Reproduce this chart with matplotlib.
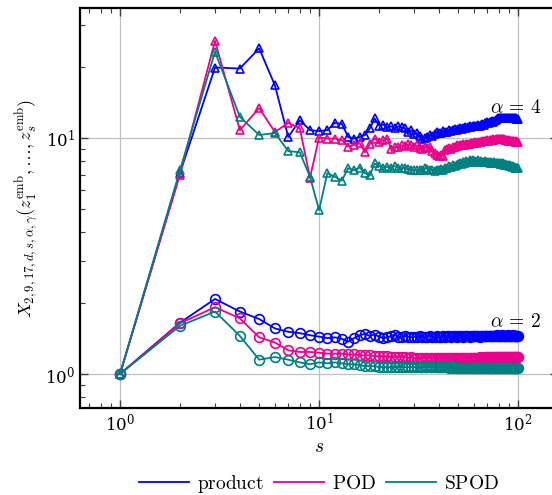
import numpy as np
import matplotlib
matplotlib.use("Agg")
import matplotlib.pyplot as plt
from matplotlib.ticker import LogLocator, NullFormatter

plt.rcParams['mathtext.fontset'] = 'cm'
plt.rcParams['font.family'] = 'serif'
plt.rcParams['font.serif'] = ['DejaVu Serif']

s = np.arange(1, 101)

# alpha = 4
product_a4 = [
    1.0, 7.1, 19.9, 19.7, 24.0, 16.7, 10.1, 11.9, 10.8, 10.7,
    10.8, 11.6, 11.5, 10.1, 9.95, 10.1, 10.3, 11.0, 12.1, 11.3,
    11.4, 11.1, 11.2, 11.0, 11.2, 11.1, 11.0, 10.6, 10.8, 10.4,
    10.5, 10.2, 9.95, 10.0, 10.1, 10.3, 10.2, 10.4, 10.6, 10.5,
    10.5, 10.7, 10.6, 10.6, 10.8, 10.7, 10.8, 10.9, 10.8, 10.9,
    11.0, 10.9, 11.0, 11.1, 11.0, 11.1, 11.2, 11.1, 11.2, 11.3,
    11.2, 11.3, 11.4, 11.3, 11.4, 11.5, 11.4, 11.6, 11.6, 11.7,
    11.6, 11.7, 11.7, 11.8, 11.7, 11.8, 11.9, 12.0, 12.1, 12.1,
    12.2, 12.1, 12.1, 12.2, 12.1, 12.2, 12.1, 12.2, 12.1, 12.1,
    12.2, 12.1, 12.1, 12.2, 12.1, 12.1, 12.0, 12.1, 12.0, 12.0]
pod_a4 = [
    1.0, 7.0, 25.8, 10.8, 13.4, 10.6, 11.6, 11.0, 6.8, 10.05,
    9.95, 9.95, 9.8, 9.2, 9.35, 9.5, 8.7, 9.45, 9.95, 9.65,
    9.8, 9.95, 9.0, 9.15, 9.2, 9.3, 9.25, 9.4, 9.3, 9.2,
    9.3, 9.1, 9.0, 9.2, 9.1, 9.2, 8.8, 8.6, 8.5, 8.4,
    8.5, 8.4, 8.9, 9.0, 9.1, 9.0, 9.15, 9.2, 9.3, 9.25,
    9.3, 9.35, 9.4, 9.3, 9.4, 9.45, 9.45, 9.5, 9.5, 9.55,
    9.6, 9.55, 9.6, 9.65, 9.6, 9.7, 9.7, 9.75, 9.7, 9.8,
    9.75, 9.8, 9.85, 9.8, 9.9, 9.85, 9.9, 9.95, 9.9, 9.95,
    9.9, 9.95, 9.9, 9.95, 9.9, 9.85, 9.8, 9.8, 9.75, 9.8,
    9.75, 9.7, 9.75, 9.7, 9.7, 9.65, 9.7, 9.65, 9.6, 9.6]
spod_a4 = [
    1.0, 7.3, 23.2, 12.3, 10.3, 10.5, 8.8, 8.7, 6.85, 4.95,
    7.1, 6.85, 6.6, 7.45, 7.3, 7.5, 7.1, 6.95, 7.8, 7.6,
    7.5, 7.55, 7.5, 7.6, 7.5, 7.45, 7.5, 7.4, 7.35, 7.3,
    7.3, 7.35, 7.3, 7.45, 7.4, 7.35, 7.3, 7.25, 7.3, 7.35,
    7.4, 7.35, 7.5, 7.45, 7.6, 7.55, 7.7, 7.6, 7.7, 7.75,
    7.8, 7.75, 7.9, 7.85, 8.0, 7.9, 8.1, 8.0, 8.05, 7.95,
    8.0, 7.95, 8.05, 7.9, 8.0, 7.95, 7.9, 8.0, 7.95, 7.9,
    7.95, 7.85, 7.9, 7.85, 7.8, 7.9, 7.85, 7.8, 7.85, 7.8,
    7.75, 7.8, 7.75, 7.8, 7.7, 7.75, 7.7, 7.65, 7.7, 7.6,
    7.65, 7.6, 7.55, 7.6, 7.55, 7.5, 7.5, 7.45, 7.5, 7.45]

# alpha = 2
product_a2 = [
    1.0, 1.65, 2.08, 1.84, 1.71, 1.56, 1.51, 1.49, 1.46, 1.44,
    1.42, 1.43, 1.41, 1.37, 1.42, 1.46, 1.48, 1.45, 1.47, 1.44,
    1.42, 1.43, 1.45, 1.47, 1.44, 1.43, 1.45, 1.44, 1.43, 1.44,
    1.44, 1.45, 1.44, 1.43, 1.44, 1.45, 1.44, 1.44, 1.45, 1.44,
    1.44, 1.45, 1.44, 1.45, 1.45, 1.44, 1.45, 1.45, 1.44, 1.45,
    1.45, 1.45, 1.44, 1.45, 1.45, 1.45, 1.44, 1.45, 1.45, 1.45,
    1.45, 1.45, 1.45, 1.44, 1.45, 1.45, 1.45, 1.45, 1.45, 1.45,
    1.45, 1.45, 1.45, 1.45, 1.45, 1.45, 1.45, 1.46, 1.45, 1.45,
    1.45, 1.45, 1.46, 1.45, 1.45, 1.45, 1.45, 1.45, 1.46, 1.45,
    1.45, 1.45, 1.45, 1.46, 1.45, 1.45, 1.45, 1.45, 1.45, 1.45]
pod_a2 = [
    1.0, 1.64, 1.92, 1.72, 1.43, 1.36, 1.26, 1.24, 1.24, 1.23,
    1.22, 1.22, 1.22, 1.21, 1.21, 1.20, 1.20, 1.20, 1.19, 1.19,
    1.19, 1.19, 1.18, 1.18, 1.18, 1.18, 1.18, 1.17, 1.18, 1.17,
    1.17, 1.17, 1.17, 1.17, 1.17, 1.17, 1.17, 1.17, 1.17, 1.17,
    1.17, 1.17, 1.17, 1.17, 1.17, 1.17, 1.17, 1.17, 1.17, 1.17,
    1.17, 1.17, 1.17, 1.17, 1.17, 1.17, 1.17, 1.17, 1.17, 1.17,
    1.17, 1.17, 1.17, 1.18, 1.17, 1.17, 1.18, 1.17, 1.18, 1.18,
    1.18, 1.18, 1.17, 1.18, 1.18, 1.18, 1.18, 1.18, 1.18, 1.18,
    1.18, 1.18, 1.18, 1.18, 1.18, 1.18, 1.18, 1.18, 1.18, 1.18,
    1.18, 1.18, 1.18, 1.18, 1.18, 1.18, 1.18, 1.18, 1.18, 1.18]
spod_a2 = [
    1.0, 1.60, 1.84, 1.45, 1.15, 1.18, 1.15, 1.12, 1.10, 1.12,
    1.11, 1.12, 1.11, 1.10, 1.10, 1.09, 1.08, 1.08, 1.08, 1.07,
    1.07, 1.07, 1.07, 1.07, 1.07, 1.07, 1.07, 1.07, 1.07, 1.07,
    1.07, 1.07, 1.07, 1.07, 1.07, 1.07, 1.07, 1.07, 1.07, 1.07,
    1.07, 1.07, 1.07, 1.07, 1.06, 1.07, 1.06, 1.07, 1.06, 1.06,
    1.06, 1.06, 1.06, 1.06, 1.06, 1.06, 1.06, 1.06, 1.06, 1.06,
    1.06, 1.06, 1.06, 1.06, 1.06, 1.06, 1.06, 1.06, 1.06, 1.06,
    1.06, 1.06, 1.06, 1.06, 1.06, 1.06, 1.06, 1.06, 1.06, 1.06,
    1.06, 1.06, 1.06, 1.06, 1.06, 1.06, 1.06, 1.06, 1.06, 1.06,
    1.06, 1.06, 1.06, 1.06, 1.06, 1.06, 1.06, 1.06, 1.06, 1.06]

names = ['product', 'POD', 'SPOD']
colors = ['#0000ff', '#ec008c', '#008080']

fig = plt.figure(figsize=(5.52, 4.95), dpi=100)
ax = fig.add_axes([80/552, 87/495, (558-80)/552, 400/495])

for y4, y2, c, name in zip([product_a4, pod_a4, spod_a4], [product_a2, pod_a2, spod_a2], colors, names):
    ax.plot(s, y4, color=c, lw=1.3, marker='^', ms=5.5, mfc='none', mew=1.2)
    ax.plot(s, y2, color=c, lw=1.3, marker='o', ms=7, mfc='none', mew=1.2)

# legend handles (lines only)
handles = [plt.Line2D([], [], color=c, lw=1.3) for c in colors]
ax.legend(handles, [r'$\mathrm{%s}$' % n for n in names], loc='center',
          bbox_to_anchor=(0.5, -0.19), ncol=3, frameon=False, fontsize=14,
          handlelength=2.6, handletextpad=0.4, columnspacing=0.5)

ax.set_xscale('log')
ax.set_yscale('log')
ax.set_xlim(10**-0.201, 10**2.2)
ax.set_ylim(10**-0.144, 10**1.551)

ax.text(96.6, 13.4, r'$\alpha\,=\,4$', ha='center', va='center', fontsize=14)
ax.text(96.6, 1.66, r'$\alpha\,=\,2$', ha='center', va='center', fontsize=14)

ax.set_xlabel(r'$s$', fontsize=14, labelpad=2)
ax.set_ylabel(r'$X_{2,9,17,d,s,\alpha,\gamma}(z_1^{\mathrm{emb}},\ldots,z_s^{\mathrm{emb}})$', fontsize=13, labelpad=3)

ax.xaxis.set_major_locator(LogLocator(base=10, numticks=10))
ax.xaxis.set_minor_locator(LogLocator(base=10, subs=np.arange(2, 10), numticks=20))
ax.yaxis.set_minor_locator(LogLocator(base=10, subs=np.arange(2, 10), numticks=20))
ax.xaxis.set_minor_formatter(NullFormatter())
ax.yaxis.set_minor_formatter(NullFormatter())

ax.tick_params(which='both', direction='in', top=True, right=True, labelsize=12, colors='#404040', labelcolor='black')
ax.tick_params(which='major', length=6, width=1.0)
ax.tick_params(which='minor', length=3.5, width=0.8)
ax.grid(True, which='major', color='#c0c0c0', lw=0.9)
ax.set_axisbelow(True)
for sp in ax.spines.values():
    sp.set_linewidth(1.6)

fig.savefig('out.png', dpi=100)
